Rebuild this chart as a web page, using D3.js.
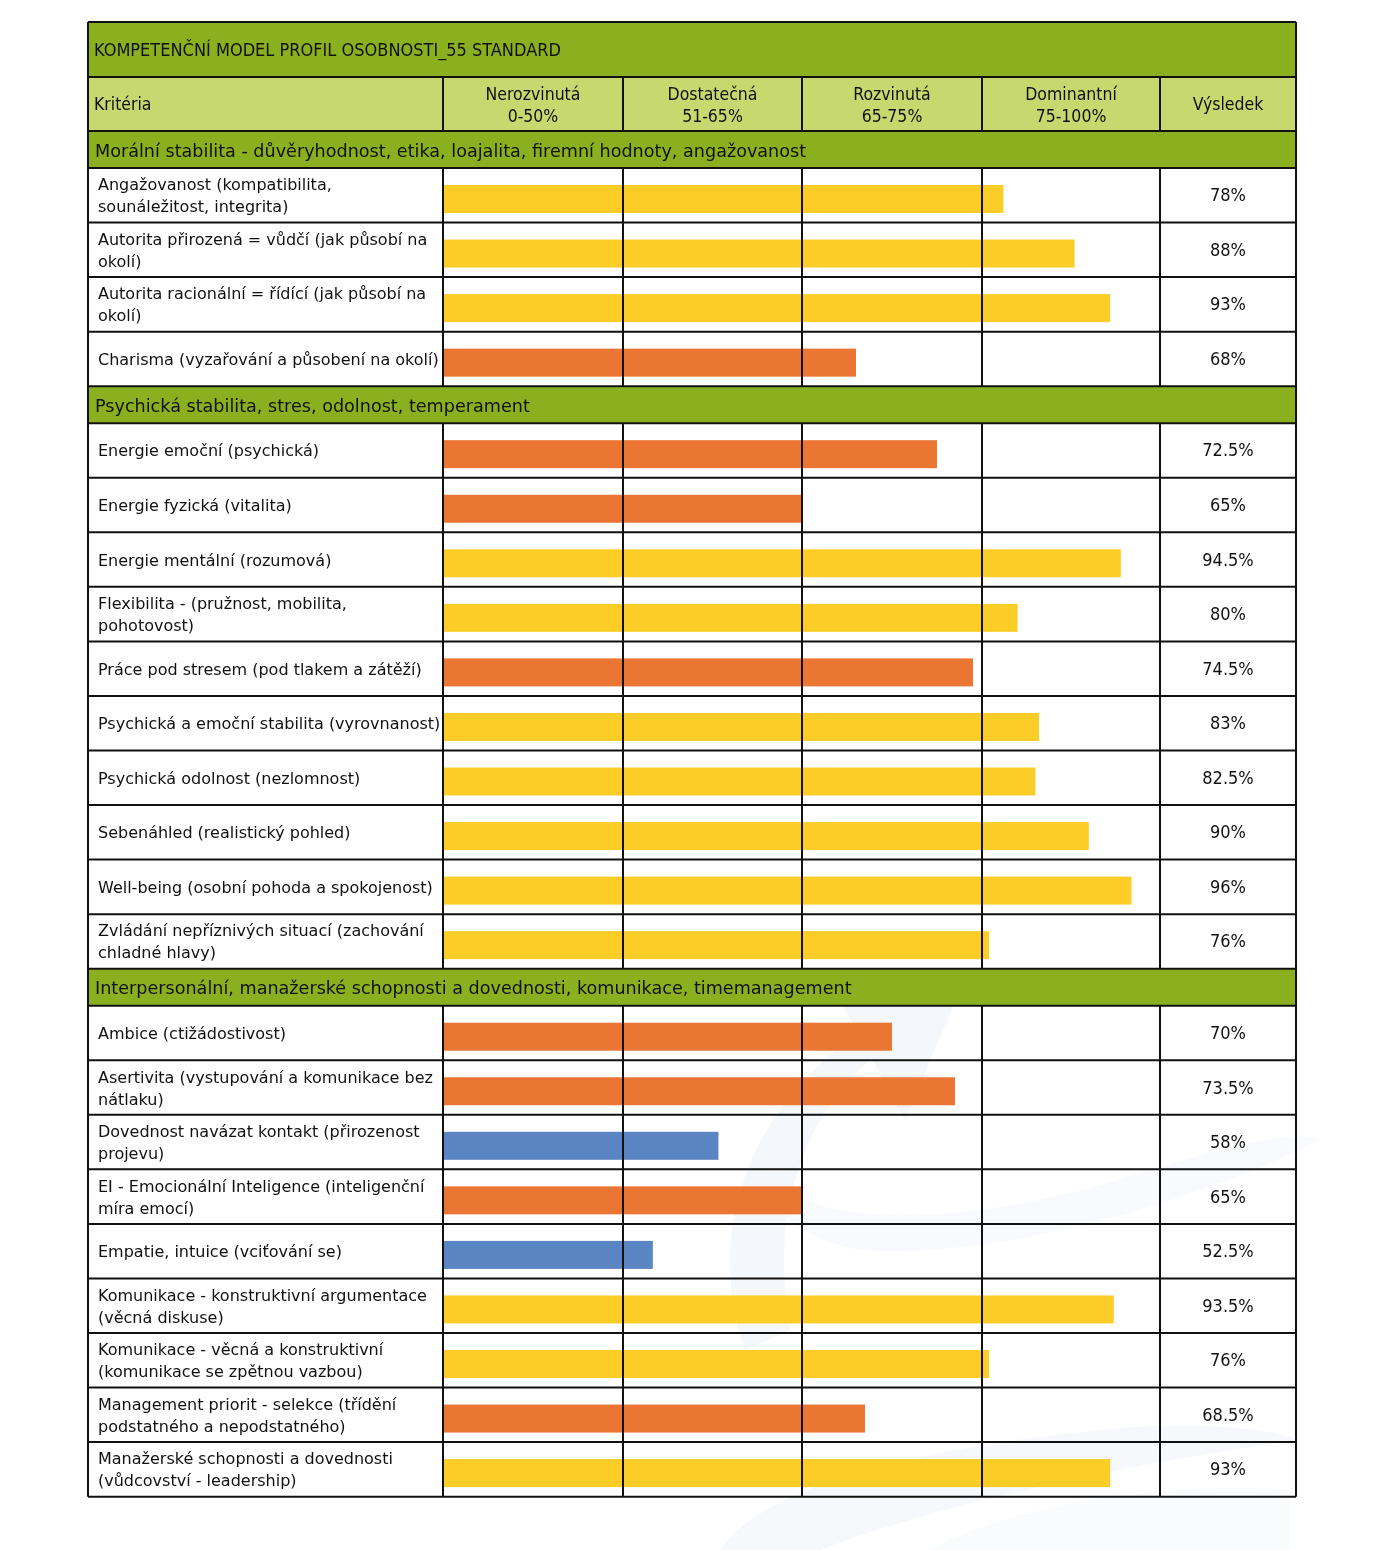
<!DOCTYPE html>
<html>
<head>
<meta charset="utf-8">
<script src="https://cdn.jsdelivr.net/npm/d3@7"></script>
<style>
  body { margin: 0; background: #fff; }
  text { font-family: "DejaVu Sans Condensed", "DejaVu Sans", sans-serif; fill: #111; }
</style>
</head>
<body>
<svg id="canvas" width="1389" height="1550"></svg>
<script>
const title = "KOMPETENČNÍ MODEL PROFIL OSOBNOSTI_55 STANDARD";
const headerLabel = "Kritéria";
const resultLabel = "Výsledek";
const levelNames = ["Nerozvinutá", "Dostatečná", "Rozvinutá", "Dominantní"];
const levelRanges = ["0-50%", "51-65%", "65-75%", "75-100%"];
const levelBreaks = [0, 50, 65, 75, 100];

const sections = [
  "Morální stabilita - důvěryhodnost, etika, loajalita, firemní hodnoty, angažovanost",
  "Psychická stabilita, stres, odolnost, temperament",
  "Interpersonální, manažerské schopnosti a dovednosti, komunikace, timemanagement"
];

const moralLabels = [
  "Angažovanost (kompatibilita,\nsounáležitost, integrita)",
  "Autorita přirozená = vůdčí (jak působí na\nokolí)",
  "Autorita racionální = řídící (jak působí na\nokolí)",
  "Charisma (vyzařování a působení na okolí)"
];
const moralValues = [78, 88, 93, 68];

const psychLabels = [
  "Energie emoční (psychická)",
  "Energie fyzická (vitalita)",
  "Energie mentální (rozumová)",
  "Flexibilita - (pružnost, mobilita,\npohotovost)",
  "Práce pod stresem (pod tlakem a zátěží)",
  "Psychická a emoční stabilita (vyrovnanost)",
  "Psychická odolnost (nezlomnost)",
  "Sebenáhled (realistický pohled)",
  "Well-being (osobní pohoda a spokojenost)",
  "Zvládání nepříznivých situací (zachování\nchladné hlavy)"
];
const psychValues = [72.5, 65, 94.5, 80, 74.5, 83, 82.5, 90, 96, 76];

const interLabels = [
  "Ambice (ctižádostivost)",
  "Asertivita (vystupování a komunikace bez\nnátlaku)",
  "Dovednost navázat kontakt (přirozenost\nprojevu)",
  "EI - Emocionální Inteligence (inteligenční\nmíra emocí)",
  "Empatie, intuice (vciťování se)",
  "Komunikace - konstruktivní argumentace\n(věcná diskuse)",
  "Komunikace - věcná a konstruktivní\n(komunikace se zpětnou vazbou)",
  "Management priorit - selekce (třídění\npodstatného a nepodstatného)",
  "Manažerské schopnosti a dovednosti\n(vůdcovství - leadership)"
];
const interValues = [70, 73.5, 58, 65, 52.5, 93.5, 76, 68.5, 93];

const groups = [
  { section: sections[0], labels: moralLabels, values: moralValues },
  { section: sections[1], labels: psychLabels, values: psychValues },
  { section: sections[2], labels: interLabels, values: interValues }
];

// layout
const tLeft = 88, tRight = 1296, labelRight = 443, barRight = 1160;
const tTop = 22, titleH = 55, headerH = 54, sectionH = 37, rowH = 54.55;

const svg = d3.select("#canvas");

const x = d3.scaleLinear()
  .domain(levelBreaks)
  .range([labelRight, 623, 802, 982, barRight]);

const color = d3.scaleThreshold()
  .domain([50, 65, 75])
  .range(["#d9322b", "#5b84c2", "#eb7533", "#fccd26"]);

// faint watermark behind the table
const wm = svg.append("g").attr("fill", "#e8eff8").attr("opacity", 0.5);
wm.append("path").attr("d", "M745,1350 C700,1220 760,1090 880,1020 L900,1005 L870,1060 C800,1120 770,1220 790,1330 Z");
wm.append("path").attr("d", "M840,1000 L960,990 L905,1120 Z");
wm.append("path").attr("d", "M760,1170 C820,1240 1000,1220 1150,1170 C1250,1140 1300,1130 1320,1140 C1200,1200 1000,1260 860,1250 C800,1240 770,1210 760,1170 Z").attr("opacity", 0.6);
wm.append("path").attr("d", "M720,1550 C760,1490 900,1450 1100,1430 C1200,1420 1280,1430 1300,1440 C1150,1460 950,1500 820,1550 Z").attr("opacity", 0.8);
wm.append("path").attr("d", "M930,1550 C1000,1510 1150,1480 1290,1490 L1290,1550 Z").attr("opacity", 0.5);

// build rows
const rows = [];
let yy = tTop;
rows.push({ type: "title", y: yy, h: titleH }); yy += titleH;
rows.push({ type: "header", y: yy, h: headerH }); yy += headerH;
groups.forEach(g => {
  rows.push({ type: "section", y: yy, h: sectionH, text: g.section }); yy += sectionH;
  g.labels.forEach((lab, i) => {
    rows.push({ type: "item", y: yy, h: rowH, label: lab, value: g.values[i] });
    yy += rowH;
  });
});
const tBottom = yy;

// backgrounds
svg.selectAll("rect.bg")
  .data(rows.filter(r => r.type !== "item"))
  .enter().append("rect")
  .attr("x", tLeft).attr("width", tRight - tLeft)
  .attr("y", d => d.y).attr("height", d => d.h)
  .attr("fill", d => d.type === "header" ? "#c6d86e" : "#8bb01f");

// bars
const items = rows.filter(r => r.type === "item");
svg.selectAll("rect.bar")
  .data(items)
  .enter().append("rect")
  .attr("class", "bar")
  .attr("x", x(0) + 1)
  .attr("y", d => d.y + 17)
  .attr("height", 28)
  .attr("width", d => x(d.value) - x(0) - 1)
  .attr("fill", d => color(d.value));

// grid lines
const lines = svg.append("g").attr("stroke", "#111").attr("stroke-width", 2);
rows.forEach(r => {
  lines.append("line").attr("x1", tLeft).attr("x2", tRight).attr("y1", r.y).attr("y2", r.y);
});
lines.append("line").attr("x1", tLeft).attr("x2", tRight).attr("y1", tBottom).attr("y2", tBottom);
lines.append("line").attr("x1", tLeft).attr("x2", tLeft).attr("y1", tTop).attr("y2", tBottom);
lines.append("line").attr("x1", tRight).attr("x2", tRight).attr("y1", tTop).attr("y2", tBottom);

const colEdges = levelBreaks.map(v => x(v));
rows.filter(r => r.type === "header" || r.type === "item").forEach(r => {
  colEdges.forEach(cx => {
    lines.append("line").attr("x1", cx).attr("x2", cx).attr("y1", r.y).attr("y2", r.y + r.h);
  });
});

// texts
svg.append("text")
  .attr("x", 94).attr("y", tTop + titleH / 2 + 6)
  .style("font-size", "18px")
  .text(title);

const header = rows.find(r => r.type === "header");
svg.append("text")
  .attr("x", 94).attr("y", header.y + header.h / 2 + 6)
  .style("font-size", "17.5px")
  .text(headerLabel);
levelNames.forEach((n, i) => {
  const cx = (x(levelBreaks[i]) + x(levelBreaks[i + 1])) / 2;
  const t = svg.append("text").attr("text-anchor", "middle").style("font-size", "17.5px");
  t.append("tspan").attr("x", cx).attr("y", header.y + 23).text(n);
  t.append("tspan").attr("x", cx).attr("y", header.y + 45).text(levelRanges[i]);
});
svg.append("text")
  .attr("x", (barRight + tRight) / 2).attr("y", header.y + header.h / 2 + 6)
  .attr("text-anchor", "middle")
  .style("font-size", "17.5px")
  .text(resultLabel);

rows.filter(r => r.type === "section").forEach(r => {
  svg.append("text")
    .attr("x", 95).attr("y", r.y + r.h / 2 + 7)
    .style("font-family", "'DejaVu Sans', sans-serif")
    .style("font-size", "17.6px")
    .text(r.text);
});

items.forEach(r => {
  const parts = r.label.split("\n");
  const t = svg.append("text")
    .style("font-family", "'DejaVu Sans', sans-serif")
    .style("font-size", "16px");
  const mid = r.y + r.h / 2;
  parts.forEach((p, i) => {
    const off = parts.length === 1 ? 6 : (i === 0 ? -5 : 17);
    t.append("tspan").attr("x", 98).attr("y", mid + off).text(p);
  });
  svg.append("text")
    .attr("x", (barRight + tRight) / 2).attr("y", mid + 6)
    .attr("text-anchor", "middle")
    .style("font-size", "18px")
    .text(r.value + "%");
});
</script>
</body>
</html>
